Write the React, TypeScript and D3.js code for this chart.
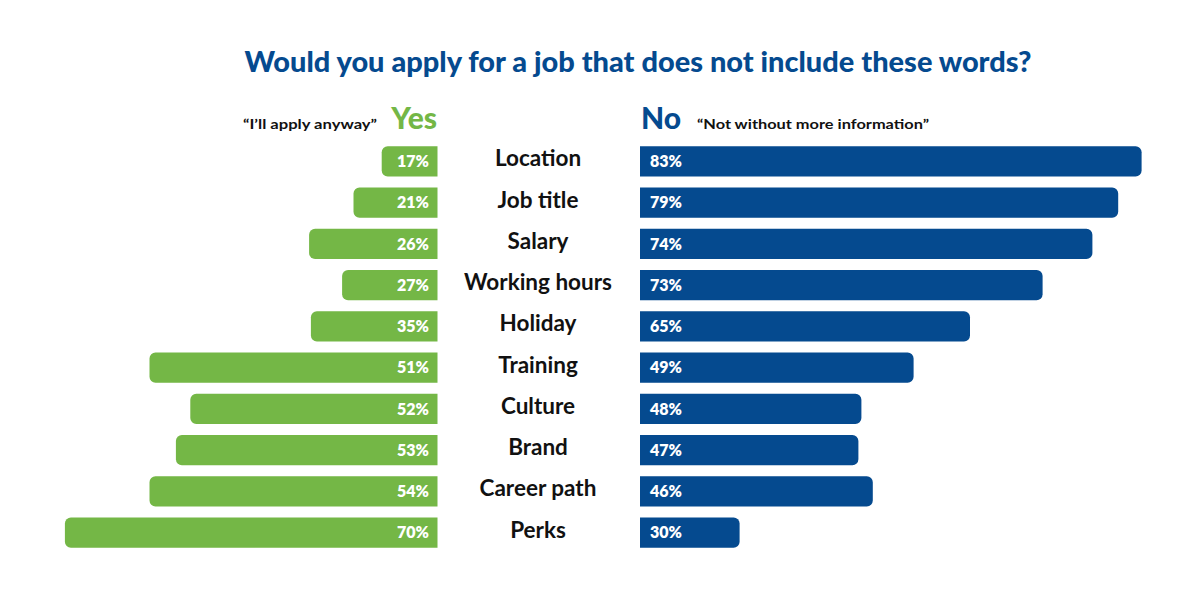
import React from "react";
import * as d3 from "d3";

const categories = ["Location", "Job title", "Salary", "Working hours", "Holiday", "Training", "Culture", "Brand", "Career path", "Perks"];
const yesPct = [17, 21, 26, 27, 35, 51, 52, 53, 54, 70];
const noPct = [83, 79, 74, 73, 65, 49, 48, 47, 46, 30];
// drawn bar extents (the source infographic does not draw them to scale)
const yesBar = [9.3, 14, 21.4, 15.9, 21.1, 48, 41.2, 43.6, 48, 62.1];
const noBar = [83.6, 79.7, 75.4, 67.1, 55, 45.6, 36.9, 36.4, 38.8, 16.6];

const GREEN = "#74b746";
const BLUE = "#054a8f";
const FONT = "Lato, 'Open Sans', sans-serif";

function barPath(x0: number, x1: number, y: number, h: number, r: number, dir: number) {
  const p = d3.path();
  if (dir > 0) {
    p.moveTo(x0, y);
    p.lineTo(x1 - r, y);
    p.arcTo(x1, y, x1, y + r, r);
    p.lineTo(x1, y + h - r);
    p.arcTo(x1, y + h, x1 - r, y + h, r);
    p.lineTo(x0, y + h);
  } else {
    p.moveTo(x0, y);
    p.lineTo(x1 + r, y);
    p.arcTo(x1, y, x1, y + r, r);
    p.lineTo(x1, y + h - r);
    p.arcTo(x1, y + h, x1 + r, y + h, r);
    p.lineTo(x0, y + h);
  }
  p.closePath();
  return p.toString();
}

export default function App() {
  const W = 1200, H = 600;
  const len = d3.scaleLinear().domain([0, 100]).range([0, 600]);
  const y = d3.scaleBand().domain(categories).range([140.5, 553.5]).paddingInner(0.27).paddingOuter(0.14);
  const yesRight = 437.5;
  const noLeft = 640;
  const centerX = 538;
  return (
    <svg width={W} height={H} style={{ position: "absolute", left: 0, top: 0, background: "#fff" }}>
      <text x={638} y={72} textAnchor="middle" fill={BLUE} fontFamily={FONT} fontWeight={900} fontSize={28} textLength={787} lengthAdjust="spacingAndGlyphs">
        Would you apply for a job that does not include these words?
      </text>
      <text x={437} y={129} textAnchor="end" fill={GREEN} fontFamily={FONT} fontWeight={900} fontSize={30}>Yes</text>
      <text x={377} y={129} textAnchor="end" fill="#111" fontFamily={FONT} fontWeight={700} fontSize={14} textLength={134} lengthAdjust="spacingAndGlyphs">“I’ll apply anyway”</text>
      <text x={641} y={129} textAnchor="start" fill={BLUE} fontFamily={FONT} fontWeight={900} fontSize={30}>No</text>
      <text x={697} y={129} textAnchor="start" fill="#111" fontFamily={FONT} fontWeight={700} fontSize={14} textLength={232} lengthAdjust="spacingAndGlyphs">“Not without more information”</text>
      {categories.map((c, i) => {
        const by = y(c)!;
        const bh = y.bandwidth();
        const cy = by + bh / 2;
        return (
          <g key={c}>
            <path d={barPath(yesRight, yesRight - len(yesBar[i]), by, bh, 6, -1)} fill={GREEN} />
            <path d={barPath(noLeft, noLeft + len(noBar[i]), by, bh, 6, 1)} fill={BLUE} />
            <text x={429} y={cy} dy="0.36em" textAnchor="end" fill="#fff" fontFamily={FONT} fontWeight={800} fontSize={16}>{yesPct[i]}%</text>
            <text x={650} y={cy} dy="0.36em" textAnchor="start" fill="#fff" fontFamily={FONT} fontWeight={800} fontSize={16}>{noPct[i]}%</text>
            <text x={centerX} y={cy} dy="0.22em" textAnchor="middle" fill="#111" fontFamily={FONT} fontWeight={700} fontSize={22.5}>{c}</text>
          </g>
        );
      })}
    </svg>
  );
}
